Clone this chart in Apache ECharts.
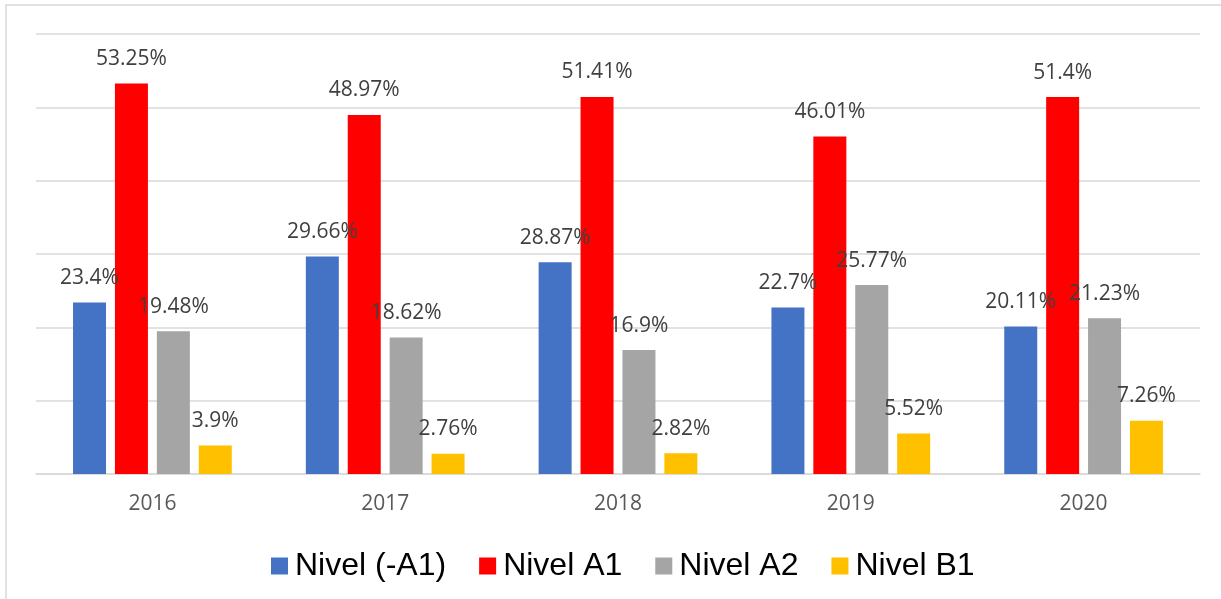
<!DOCTYPE html>
<html>
<head>
<meta charset="utf-8">
<title>Niveles</title>
<script src="https://cdn.jsdelivr.net/npm/echarts@6/dist/echarts.min.js"></script>
<style>
  html, body { margin: 0; padding: 0; background: #fff; }
  #chart { width: 1221px; height: 599px; }
</style>
</head>
<body>
<div id="chart"></div>
<script>
// datos
var categories = ["2016", "2017", "2018", "2019", "2020"];
var seriesNames = ["Nivel (-A1)", "Nivel A1", "Nivel A2", "Nivel B1"];
var nivelMenosA1 = [23.4, 29.66, 28.87, 22.7, 20.11];
var nivelA1 = [53.25, 48.97, 51.41, 46.01, 51.4];
var nivelA2 = [19.48, 18.62, 16.9, 25.77, 21.23];
var nivelB1 = [3.9, 2.76, 2.82, 5.52, 7.26];

var colors = ["#4472C4", "#FF0000", "#A5A5A5", "#FFC000"];
var values = [nivelMenosA1, nivelA1, nivelA2, nivelB1];

function makeSeries(i) {
  return {
    name: seriesNames[i],
    type: "bar",
    data: values[i],
    barWidth: 33,
    barGap: "27%",
    itemStyle: { color: colors[i] },
    label: {
      show: true,
      position: "top",
      distance: 14,
      formatter: "{c}%",
      color: "#404040",
      fontSize: 21,
      fontFamily: "Open Sans"
    }
  };
}

var chart = echarts.init(document.getElementById("chart"));
var option = {
  backgroundColor: "#fff",
  animation: false,
  graphic: [
    {
      type: "rect",
      shape: { x: 6, y: 5, width: 1300, height: 700 },
      style: { fill: "none", stroke: "#d9d9d9", lineWidth: 1.5 },
      silent: true
    }
  ],
  grid: {
    left: 36,
    right: 21,
    top: 34,
    bottom: 125,
    containLabel: false,
    outerBoundsMode: "none"
  },
  legend: {
    left: 266,
    top: 545,
    icon: "rect",
    itemWidth: 17,
    itemHeight: 17,
    itemGap: 33,
    textStyle: {
      fontSize: 32,
      fontFamily: "Liberation Sans",
      color: "#000",
      padding: [0, 0, 0, 2]
    },
    data: seriesNames
  },
  xAxis: {
    type: "category",
    data: categories,
    axisLine: { lineStyle: { color: "#d9d9d9", width: 1.5 } },
    axisTick: { show: false },
    axisLabel: {
      color: "#595959",
      fontSize: 21,
      fontFamily: "Open Sans",
      margin: 20
    }
  },
  yAxis: {
    type: "value",
    min: 0,
    max: 60,
    interval: 10,
    axisLabel: { show: false },
    axisLine: { show: false },
    axisTick: { show: false },
    splitLine: { lineStyle: { color: "#d9d9d9", width: 1.5 } }
  },
  series: [makeSeries(0), makeSeries(1), makeSeries(2), makeSeries(3)]
};
chart.setOption(option);
</script>
</body>
</html>
